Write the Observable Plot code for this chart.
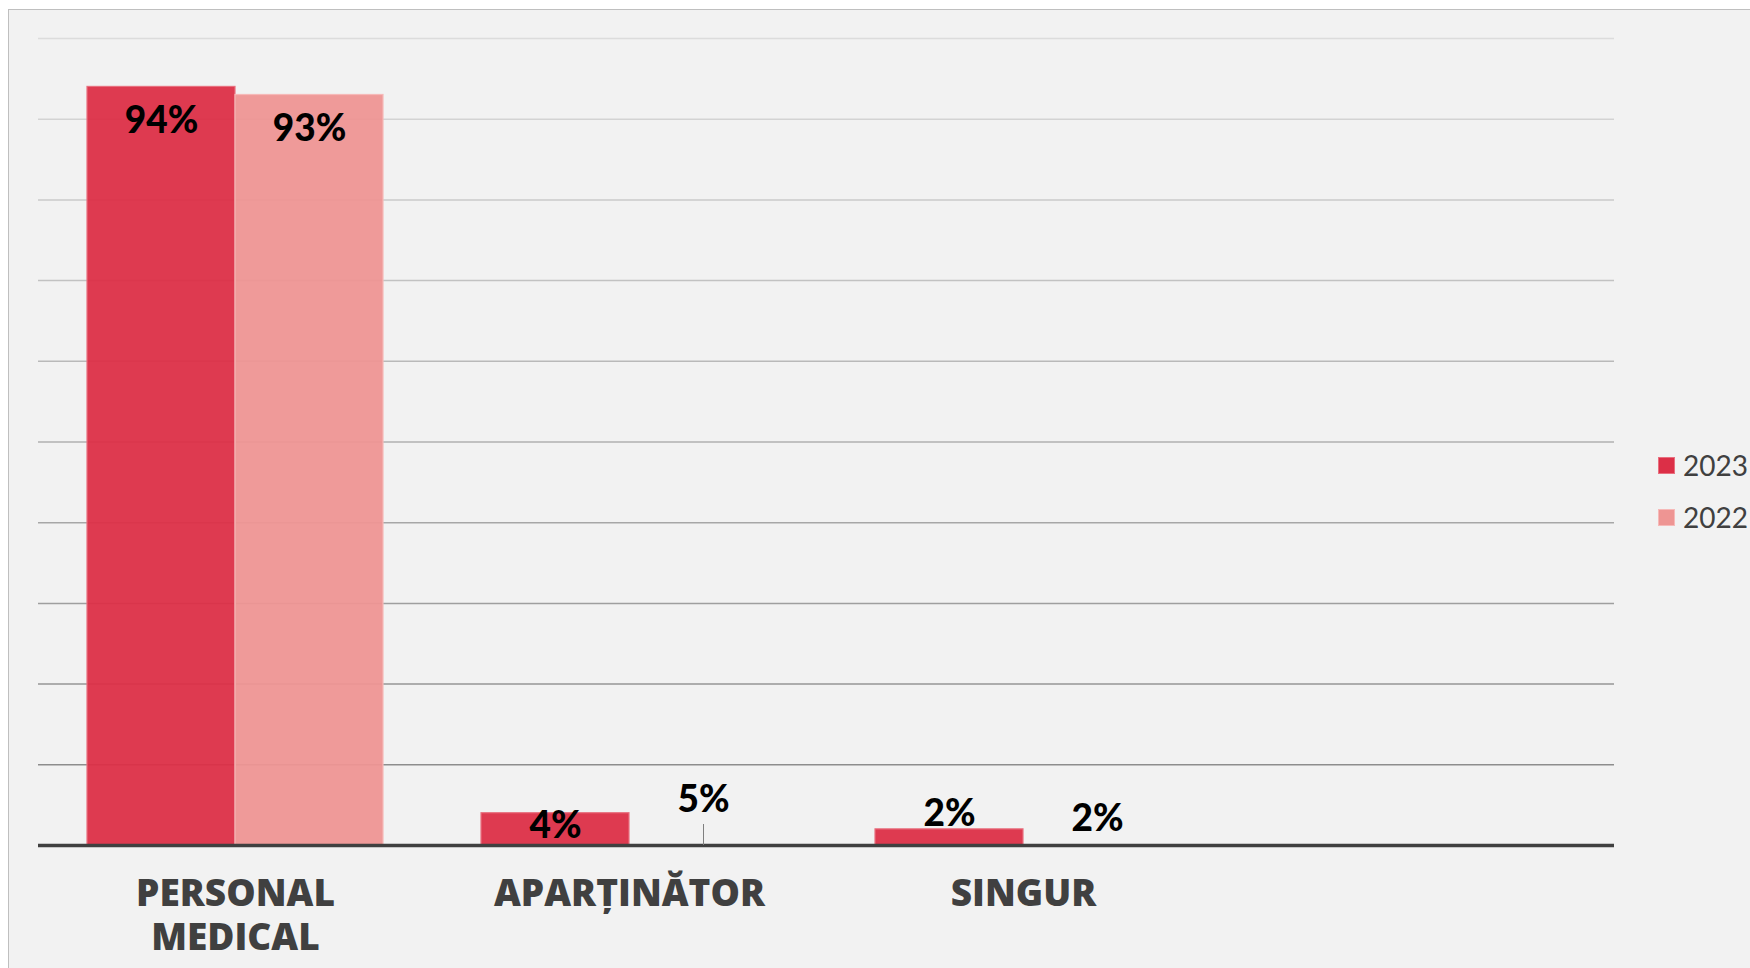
<!DOCTYPE html>
<html>
<head>
<meta charset="utf-8">
<script src="https://cdn.jsdelivr.net/npm/d3@7"></script>
<script src="https://cdn.jsdelivr.net/npm/@observablehq/plot@0.6"></script>
<style>
  html, body { margin: 0; padding: 0; background: #ffffff; width: 1750px; height: 968px; overflow: hidden; }
  #frame { position: absolute; left: 8px; top: 9px; width: 1800px; height: 1000px; background: #f2f2f2; border: 1.5px solid #bfbfbf; box-sizing: border-box; }
  #chart { position: absolute; left: 0; top: 0; }
  #legend { position: absolute; left: 1658px; top: 439px; font-family: Lato, "Open Sans", sans-serif; font-size: 28px; color: #404040; }
  .item { display: flex; align-items: center; height: 52px; }
  .sw { width: 17px; height: 17px; margin-right: 8px; box-sizing: border-box; border: 1px solid; }
</style>
</head>
<body>
<div id="frame"></div>
<div id="chart"></div>
<div id="legend"></div>
<script>
// ---- data ----
const categories = ["PERSONAL\nMEDICAL", "APARȚINĂTOR", "SINGUR", ""];
const years = ["2023", "2022"];
const values2023 = [94, 4, 2];
const values2022 = [93, 5, 2];
const yTicks = [0, 10, 20, 30, 40, 50, 60, 70, 80, 90, 100];
// 2022 bars are drawn only for the first category in the reference
const show2022Bar = [true, false, false];

// ---- styling ----
const fills = {"2023": "#dc2f47", "2022": "#ee9593"};
const edges = {"2023": "#e8707f", "2022": "#f6b9b8"};
const gridColor = d3.interpolateRgb("#8d8d8d", "#dcdcdc");
const labelDy = {
  "PERSONAL\nMEDICAL|2023": 34, "PERSONAL\nMEDICAL|2022": 34,
  "APARȚINĂTOR|2023": 13, "APARȚINĂTOR|2022": -5,
  "SINGUR|2023": -15, "SINGUR|2022": -10
};

const rows = [];
categories.slice(0, 3).forEach((c, i) => {
  rows.push({cat: c, year: "2023", value: values2023[i], bar: true});
  rows.push({cat: c, year: "2022", value: values2022[i], bar: show2022Bar[i]});
});

const W = 1750, ML = 38, MR = 136;
const padOuter = 0.327;

const dyGroups = d3.groups(rows, d => labelDy[d.cat + "|" + d.year]);
const labelMarks = dyGroups.map(([dy, rs]) => Plot.text(rs, {
  fx: "cat", x: "year", y: "value",
  text: d => d.value + "%",
  dy: dy,
  lineAnchor: "middle",
  fontFamily: "Lato, 'Open Sans', sans-serif",
  fontWeight: 900, fontSize: 37, fill: "#000000",
  ariaLabel: "value-label"
}));

const chart = Plot.plot({
  width: W,
  height: 968,
  marginLeft: ML,
  marginRight: MR,
  marginTop: 38,
  marginBottom: 123,
  style: {background: "transparent", overflow: "visible"},
  fx: {domain: categories, padding: 0, axis: null},
  x: {domain: years, paddingInner: 0, paddingOuter: padOuter, axis: null},
  y: {domain: [0, 100], axis: null},
  color: {type: "identity"},
  marks: [
    Plot.ruleY(yTicks.filter(t => t > 0), {y: d => d, stroke: d => gridColor((d - 10) / 90), strokeWidth: 1.5}),
    Plot.barY(rows.filter(d => d.bar), {
      fx: "cat", x: "year", y: "value",
      fill: d => fills[d.year], fillOpacity: 0.95,
      stroke: d => edges[d.year], strokeWidth: 1.2
    }),
    Plot.ruleY([0], {stroke: "#404040", strokeWidth: 3.5}),
    Plot.ruleX(rows.filter(d => !d.bar && d.cat === categories[1]), {
      fx: "cat", x: "year", y1: 0, y2: 2.6, stroke: "#7f7f7f", strokeWidth: 1
    }),
    ...labelMarks,
    Plot.text(categories, {
      fx: d => d, text: d => d,
      frameAnchor: "bottom", lineAnchor: "top", dy: 29,
      lineHeight: 1.2,
      fontFamily: "'Open Sans', Lato, sans-serif",
      fontWeight: 800, fontSize: 37, fill: "#404040",
      letterSpacing: "2.5px"
    })
  ]
});

document.getElementById("chart").appendChild(chart);

// condense value labels horizontally (reference uses a narrow humanist bold face)
const valueTexts = Array.from(chart.querySelectorAll('g[aria-label="value-label"] text'));
if (valueTexts.length) {
  const ref = valueTexts.find(t => t.textContent === "94%") || valueTexts[0];
  const s = Math.min(1, 58 / ref.getBBox().width);
  valueTexts.forEach(t => {
    const tr = t.getAttribute("transform");
    if (tr) {
      t.setAttribute("transform", tr + ` scale(${s},1)`);
    } else {
      const x = +t.getAttribute("x") || 0;
      t.setAttribute("transform", `translate(${x},0) scale(${s},1) translate(${-x},0)`);
    }
  });
}

// legend
const legend = document.getElementById("legend");
years.forEach(y => {
  const item = document.createElement("div");
  item.className = "item";
  const sw = document.createElement("div");
  sw.className = "sw";
  sw.style.background = fills[y];
  sw.style.borderColor = edges[y];
  const lab = document.createElement("span");
  lab.textContent = y;
  item.appendChild(sw);
  item.appendChild(lab);
  legend.appendChild(item);
});
</script>
</body>
</html>
